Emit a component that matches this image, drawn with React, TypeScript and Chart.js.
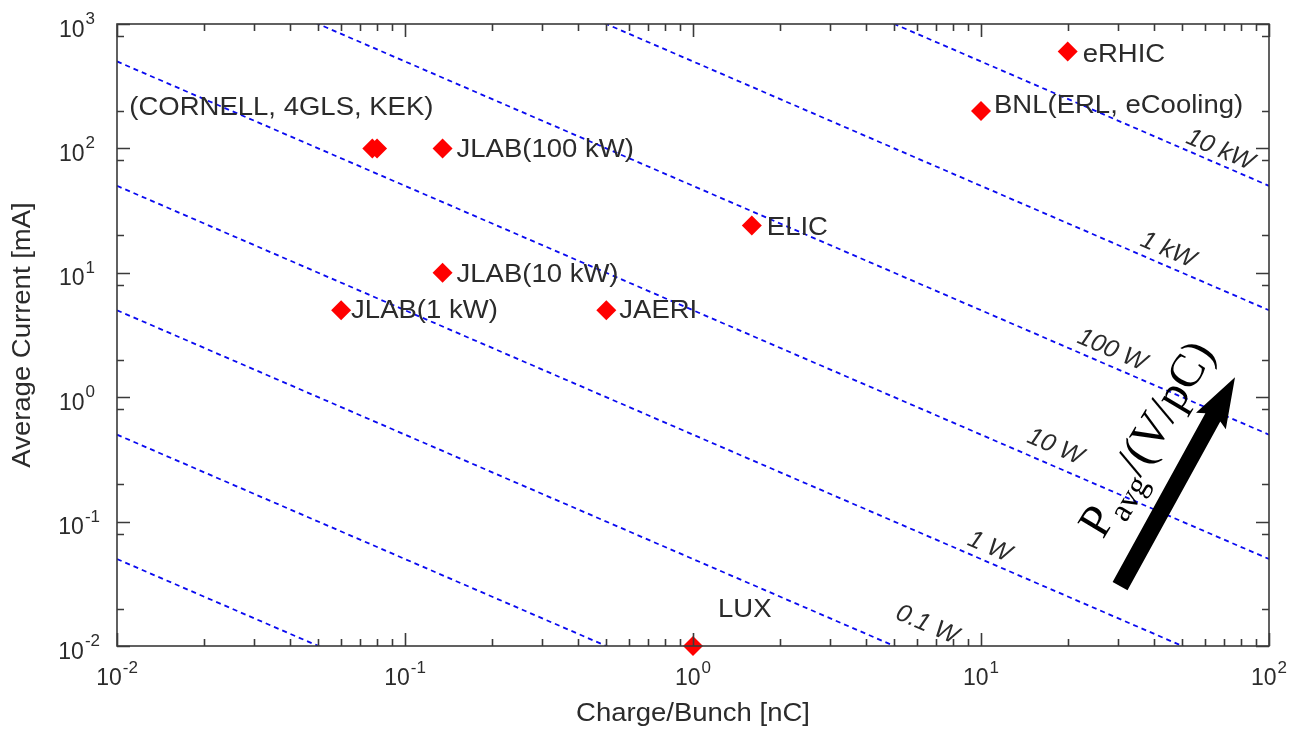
import React, { useEffect, useRef } from 'react';
import { Chart, registerables } from 'chart.js';

Chart.register(...registerables);

const W = 1303;
const H = 732;

// ---- data -------------------------------------------------------------
const facilityCharge = [20, 10, 0.077, 0.08, 0.135, 1.6, 0.135, 0.06, 0.5, 1]; // nC
const facilityCurrent = [600, 200, 100, 100, 100, 24, 10, 5, 5, 0.01]; // mA

// label text attached to a facility point (index into arrays above) with pixel offsets
const facilityLabels = ['eRHIC', 'BNL(ERL, eCooling)', '(CORNELL, 4GLS, KEK)', 'JLAB(100 kW)', 'ELIC', 'JLAB(10 kW)', 'JLAB(1 kW)', 'JAERI', 'LUX'];
const facilityLabelPoint = [0, 1, 2, 4, 5, 6, 7, 8, 9];
const facilityLabelDx = [15, 13, -243, 14, 15, 14, 10, 13, 25];
const facilityLabelDy = [10, 2, -33, 9, 9, 9, 8, 8, -29];

// iso power lines: charge x current product (nC * mA)
const isoProducts = [0.0005, 0.005, 0.05, 0.5, 5, 50, 500, 5000];
const isoLabels = ['', '', '0.1 W', '1 W', '10 W', '100 W', '1 kW', '10 kW'];
const isoLabelCharge = [0, 0, 6.49, 10.7, 18.1, 28.5, 44.6, 67.6];
const isoLabelCurrent = [0, 0, 0.0148, 0.0625, 0.398, 2.39, 15.2, 97];

// axes
const xDecades = [0.01, 0.1, 1, 10, 100];
const xExponents = ['-2', '-1', '0', '1', '2'];
const yDecades = [0.01, 0.1, 1, 10, 100, 1000];
const yExponents = ['-2', '-1', '0', '1', '2', '3'];
const xMinorMultipliers = [2, 3, 4, 5, 6, 7, 8, 9];
const yMinorMultipliers = [2, 8];

const xTitle = 'Charge/Bunch [nC]';
const yTitle = 'Average Current [mA]';

// arrow annotation (data coordinates)
const arrowTail = { x: 30.4, y: 0.0303 };
const arrowTip = { x: 76.2, y: 1.45 };
const arrowTextAnchor = { x: 26.5, y: 0.0711 };

const SANS = "'Liberation Sans', Arial, Helvetica, sans-serif";
const SERIF = "'Liberation Serif', 'Times New Roman', serif";
const TEXT = '#2b2b2b';
const STRETCH = 1.1;

function drawPow(ctx: CanvasRenderingContext2D, exp: string, x: number, baseY: number, expY: number, align: 'right' | 'center') {
  const baseFont = `23px ${SANS}`;
  const expFont = `17px ${SANS}`;
  ctx.font = baseFont;
  const wb = ctx.measureText('10').width;
  ctx.font = expFont;
  const we = ctx.measureText(exp).width;
  const total = wb + 1 + we;
  const left = align === 'right' ? x - total : x - total / 2;
  ctx.textAlign = 'left';
  ctx.textBaseline = 'alphabetic';
  ctx.font = baseFont;
  ctx.fillText('10', left, baseY);
  ctx.font = expFont;
  ctx.fillText(exp, left + wb + 1, expY);
}

function stretchedText(ctx: CanvasRenderingContext2D, t: string, x: number, y: number, rot = 0) {
  ctx.save();
  ctx.translate(x, y);
  if (rot) ctx.rotate(rot);
  ctx.scale(STRETCH, 1);
  ctx.fillText(t, 0, 0);
  ctx.restore();
}

const overlay = {
  id: 'overlay',
  afterDatasetsDraw(chart: any) {
    const { ctx } = chart;
    const xs = chart.scales.x;
    const ys = chart.scales.y;
    ctx.save();

    // iso-power labels
    const xDec = xs.getPixelForValue(10) - xs.getPixelForValue(1);
    const yDec = ys.getPixelForValue(0.1) - ys.getPixelForValue(1);
    const ang = Math.atan2(yDec, xDec);
    ctx.fillStyle = TEXT;
    ctx.font = `italic 25px ${SANS}`;
    ctx.textAlign = 'center';
    ctx.textBaseline = 'middle';
    isoLabels.forEach((t, i) => {
      if (!t) return;
      const px = xs.getPixelForValue(isoLabelCharge[i]);
      const py = ys.getPixelForValue(isoLabelCurrent[i]);
      ctx.save();
      ctx.translate(px, py);
      ctx.rotate(ang);
      ctx.fillText(t, 0, 0);
      ctx.restore();
    });

    // facility labels
    ctx.font = `25px ${SANS}`;
    ctx.textAlign = 'left';
    ctx.textBaseline = 'alphabetic';
    facilityLabels.forEach((t, i) => {
      const k = facilityLabelPoint[i];
      const px = xs.getPixelForValue(facilityCharge[k]);
      const py = ys.getPixelForValue(facilityCurrent[k]);
      stretchedText(ctx, t, px + facilityLabelDx[i], py + facilityLabelDy[i]);
    });

    // arrow
    const tx = xs.getPixelForValue(arrowTail.x);
    const ty = ys.getPixelForValue(arrowTail.y);
    const hx = xs.getPixelForValue(arrowTip.x);
    const hy = ys.getPixelForValue(arrowTip.y);
    const len = Math.hypot(hx - tx, hy - ty);
    const aang = Math.atan2(hy - ty, hx - tx);
    ctx.save();
    ctx.translate(tx, ty);
    ctx.rotate(aang);
    ctx.fillStyle = '#000';
    const headLen = 50, headHalf = 17, shaftHalf = 8.5;
    ctx.beginPath();
    ctx.moveTo(0, -shaftHalf);
    ctx.lineTo(len - headLen + 4, -shaftHalf);
    ctx.lineTo(len - headLen, -headHalf);
    ctx.lineTo(len, 0);
    ctx.lineTo(len - headLen, headHalf);
    ctx.lineTo(len - headLen + 4, shaftHalf);
    ctx.lineTo(0, shaftHalf);
    ctx.closePath();
    ctx.fill();
    ctx.restore();

    // P_avg/(V/pC)
    const ax = xs.getPixelForValue(arrowTextAnchor.x);
    const ay = ys.getPixelForValue(arrowTextAnchor.y);
    ctx.save();
    ctx.translate(ax, ay);
    ctx.rotate((-59 * Math.PI) / 180);
    ctx.fillStyle = '#000';
    ctx.textAlign = 'left';
    ctx.textBaseline = 'alphabetic';
    ctx.font = `47px ${SERIF}`;
    ctx.fillText('P', 0, 0);
    let off = ctx.measureText('P').width;
    ctx.font = `32px ${SERIF}`;
    ctx.fillText('avg', off, 11);
    off += ctx.measureText('avg').width;
    ctx.font = `47px ${SERIF}`;
    ctx.fillText('/(V/pC)', off, 0);
    ctx.restore();

    ctx.restore();
  },
  afterDraw(chart: any) {
    const { ctx, chartArea: a } = chart;
    const xs = chart.scales.x;
    const ys = chart.scales.y;
    ctx.save();
    ctx.strokeStyle = '#3a3a3a';
    ctx.lineWidth = 1.6;
    ctx.strokeRect(a.left, a.top, a.right - a.left, a.bottom - a.top);

    const major = 13, minor = 7;
    ctx.beginPath();
    xDecades.forEach((d, i) => {
      const px = Math.round(xs.getPixelForValue(d)) + 0.5;
      ctx.moveTo(px, a.bottom); ctx.lineTo(px, a.bottom - major);
      ctx.moveTo(px, a.top); ctx.lineTo(px, a.top + major);
      if (i < xDecades.length - 1) {
        xMinorMultipliers.forEach((m) => {
          const qx = Math.round(xs.getPixelForValue(d * m)) + 0.5;
          ctx.moveTo(qx, a.bottom); ctx.lineTo(qx, a.bottom - minor);
          ctx.moveTo(qx, a.top); ctx.lineTo(qx, a.top + minor);
        });
      }
    });
    yDecades.forEach((d, i) => {
      const py = Math.round(ys.getPixelForValue(d)) + 0.5;
      ctx.moveTo(a.left, py); ctx.lineTo(a.left + major, py);
      ctx.moveTo(a.right, py); ctx.lineTo(a.right - major, py);
      if (i < yDecades.length - 1) {
        yMinorMultipliers.forEach((m) => {
          const qy = Math.round(ys.getPixelForValue(d * m)) + 0.5;
          ctx.moveTo(a.left, qy); ctx.lineTo(a.left + minor, qy);
          ctx.moveTo(a.right, qy); ctx.lineTo(a.right - minor, qy);
        });
      }
    });
    ctx.stroke();

    ctx.fillStyle = TEXT;
    xDecades.forEach((d, i) => {
      const px = xs.getPixelForValue(d);
      drawPow(ctx, xExponents[i], px, a.bottom + 39, a.bottom + 27, 'center');
    });
    yDecades.forEach((d, i) => {
      const py = ys.getPixelForValue(d);
      const right = yExponents[i].startsWith('-') ? 100 : 95;
      drawPow(ctx, yExponents[i], right, py + 12.5, py, 'right');
    });

    ctx.font = `25px ${SANS}`;
    ctx.textAlign = 'left';
    ctx.textBaseline = 'alphabetic';
    const wx = ctx.measureText(xTitle).width * STRETCH;
    stretchedText(ctx, xTitle, (a.left + a.right) / 2 - wx / 2, 721);
    const wy = ctx.measureText(yTitle).width * STRETCH;
    stretchedText(ctx, yTitle, 30, (a.top + a.bottom) / 2 + wy / 2, -Math.PI / 2);
    ctx.restore();
  },
};

export default function App() {
  const ref = useRef<HTMLCanvasElement>(null);
  useEffect(() => {
    document.body.style.margin = '0';
    const canvas = ref.current;
    if (!canvas) return;
    const xMin = xDecades[0];
    const xMax = xDecades[xDecades.length - 1];
    const isoSets = isoProducts.map((c) => ({
      label: `${c}`,
      data: [
        { x: xMin, y: c / xMin },
        { x: xMax, y: c / xMax },
      ],
      showLine: true,
      borderColor: '#0a0af0',
      borderWidth: 1.8,
      borderDash: [5, 4],
      pointRadius: 0,
      fill: false,
      order: 2,
    }));
    const chart = new Chart(canvas, {
      type: 'scatter',
      data: {
        datasets: [
          {
            label: 'facilities',
            data: facilityCharge.map((q, i) => ({ x: q, y: facilityCurrent[i] })),
            pointStyle: 'rectRot',
            pointRadius: 10,
            pointBackgroundColor: '#ff0000',
            pointBorderColor: '#ff0000',
            pointBorderWidth: 0,
            showLine: false,
            clip: false,
            order: 0,
          } as any,
          ...isoSets,
        ],
      },
      options: {
        responsive: false,
        animation: false,
        layout: { padding: { top: 24, right: 34, left: 0, bottom: 0 } },
        plugins: { legend: { display: false }, tooltip: { enabled: false } },
        scales: {
          x: {
            type: 'logarithmic',
            min: 0.01,
            max: 100,
            grid: { display: false },
            border: { display: false },
            ticks: { display: false },
            afterFit: (s: any) => { s.height = 86; },
          },
          y: {
            type: 'logarithmic',
            min: 0.01,
            max: 1000,
            grid: { display: false },
            border: { display: false },
            ticks: { display: false },
            afterFit: (s: any) => { s.width = 117; },
          },
        },
      } as any,
      plugins: [overlay],
    });
    return () => chart.destroy();
  }, []);
  return (
    <div style={{ width: W, height: H, background: '#fff' }}>
      <canvas ref={ref} width={W} height={H} style={{ display: 'block' }} />
    </div>
  );
}
